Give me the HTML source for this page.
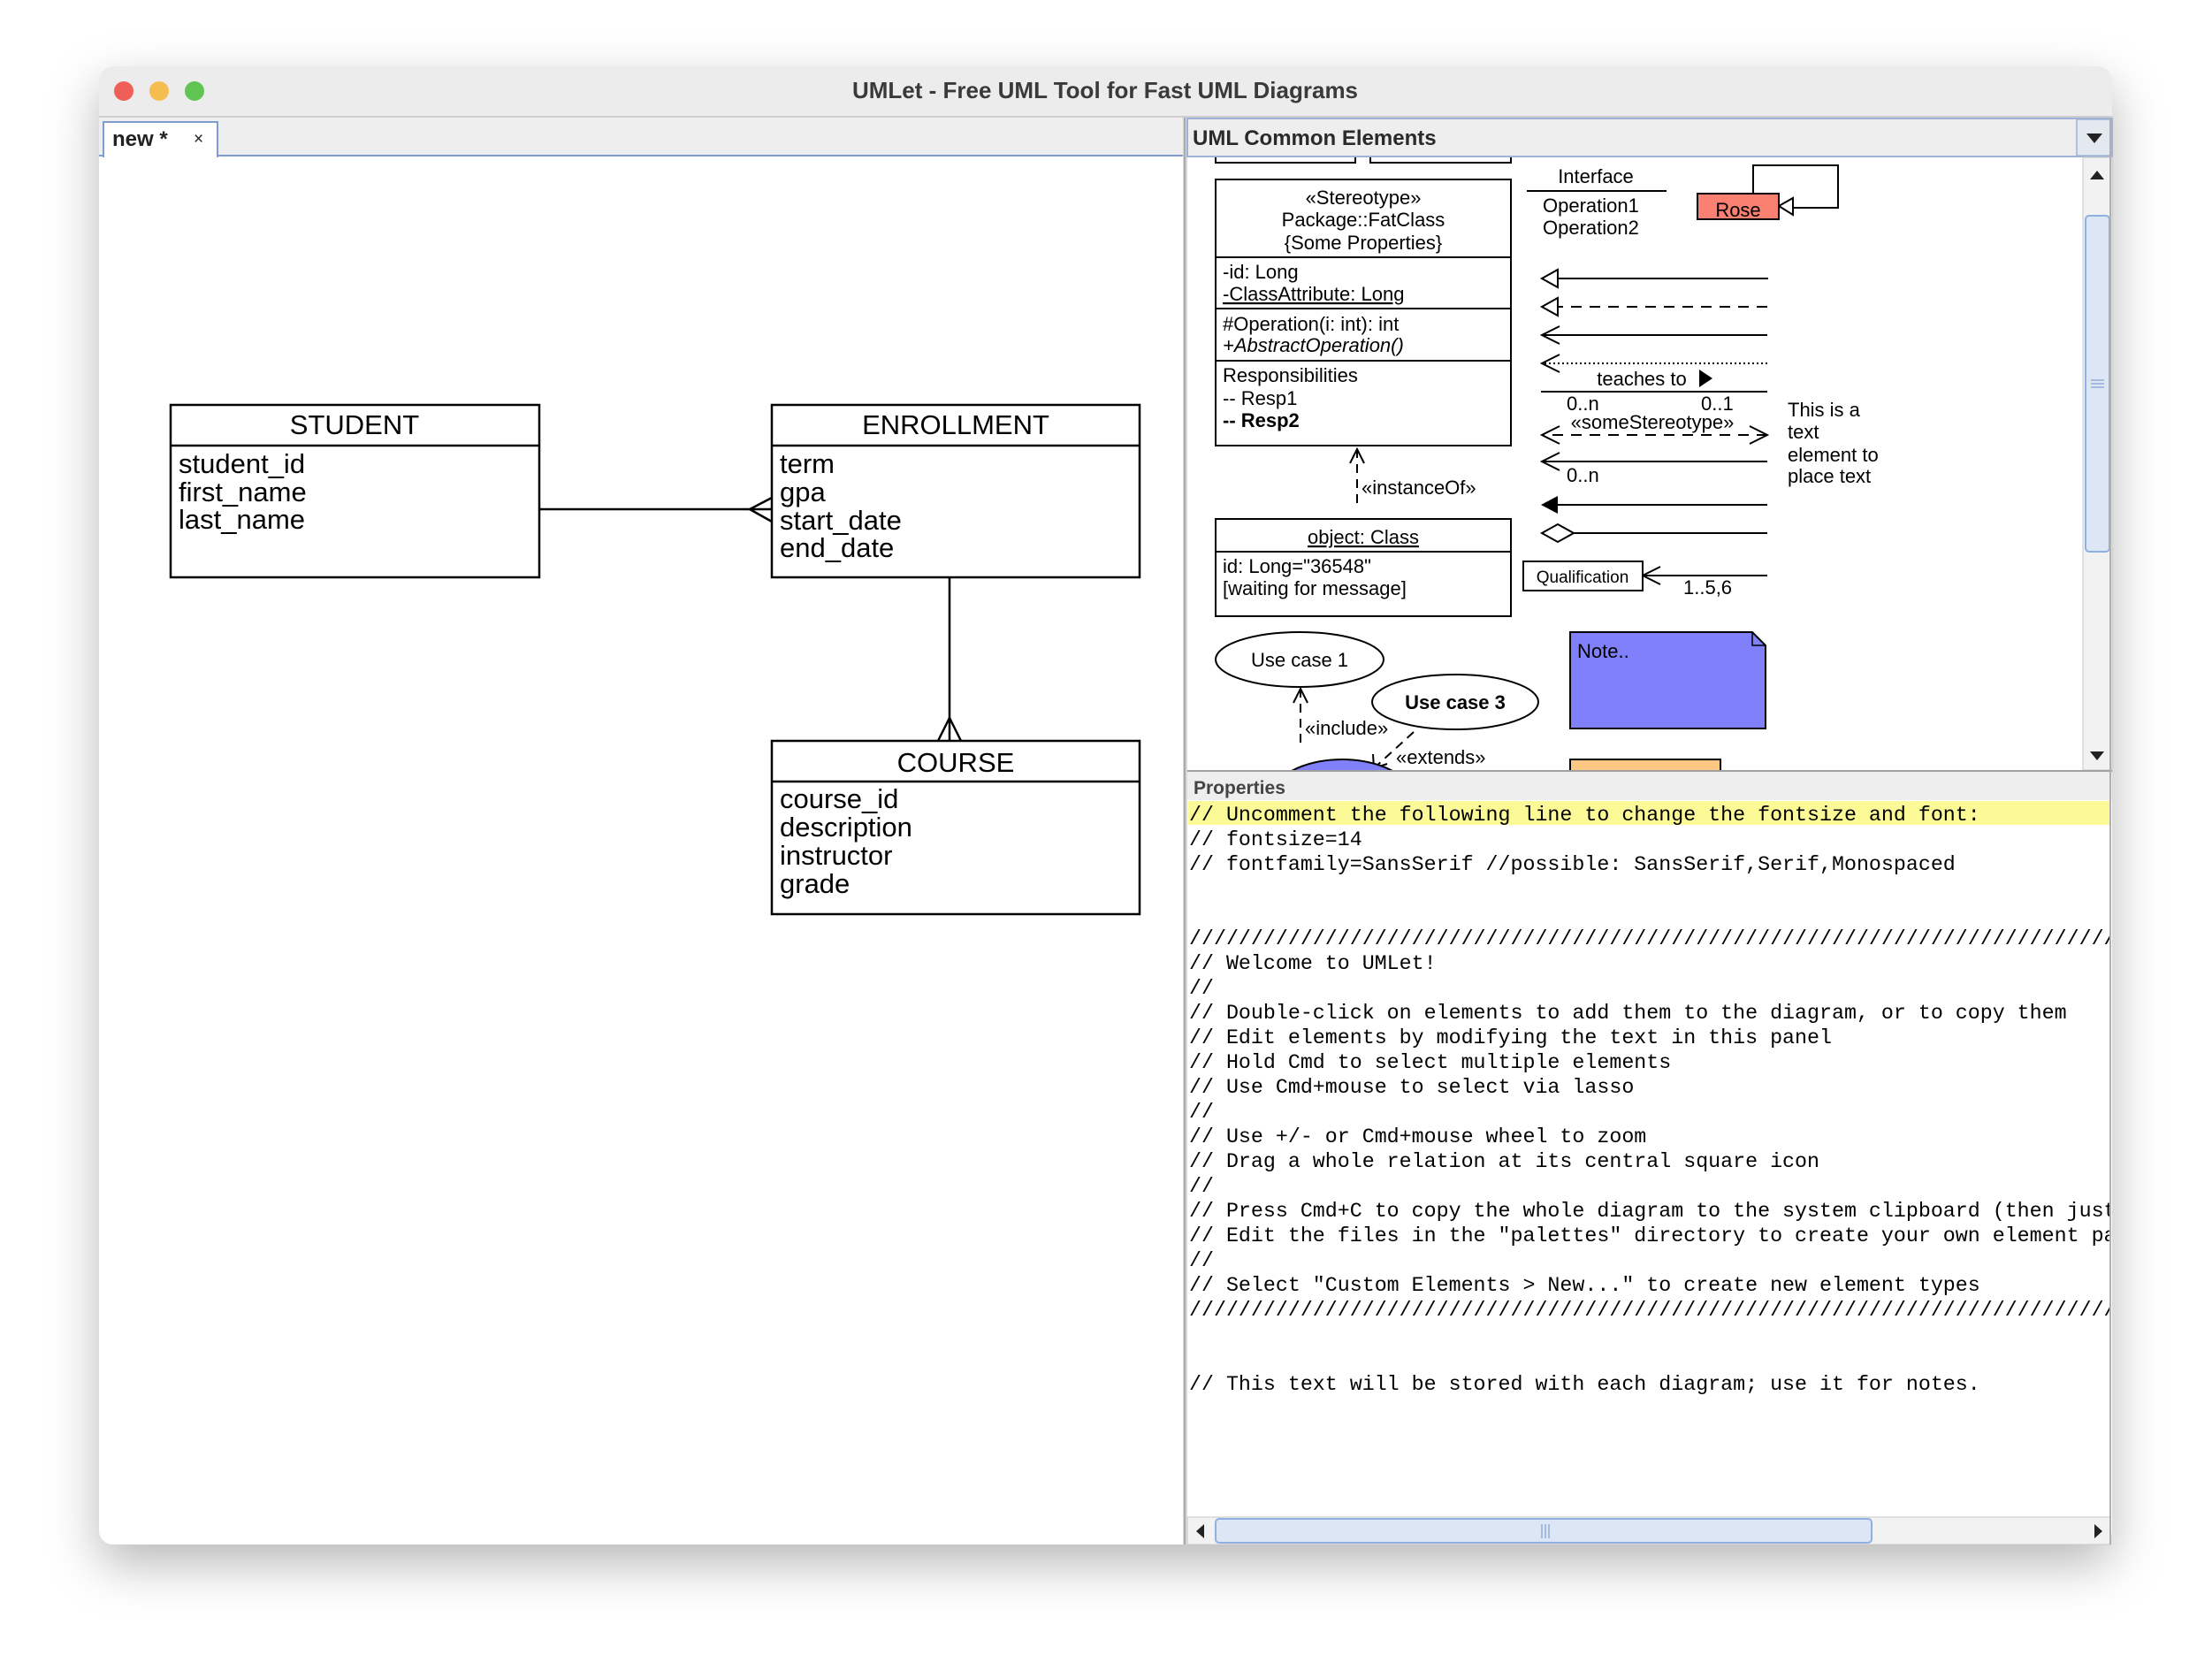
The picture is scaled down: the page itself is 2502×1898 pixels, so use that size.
<!DOCTYPE html>
<html><head><meta charset="utf-8"><style>
html,body{margin:0;padding:0;background:#fff;width:2502px;height:1898px;overflow:hidden}
svg{display:block}
.s{font-family:"Liberation Sans Narrow","Liberation Sans",sans-serif}
.m{font-family:"Liberation Mono",monospace;font-size:23.3px;fill:#000}
</style></head><body>
<svg width="2502" height="1898" viewBox="0 0 2502 1898" xmlns="http://www.w3.org/2000/svg">
<defs>
<filter id="sh" x="-10%" y="-10%" width="120%" height="125%"><feDropShadow dx="0" dy="22" stdDeviation="28" flood-color="#000" flood-opacity="0.28"/></filter>
<clipPath id="pal"><rect x="1342" y="178" width="1014" height="693"/></clipPath>
<clipPath id="prop"><rect x="1342" y="904" width="1044" height="810"/></clipPath>
</defs>
<rect x="112" y="75" width="2277" height="1672" rx="16" fill="#fff" filter="url(#sh)"/>
<path d="M112 132 V91 a16 16 0 0 1 16 -16 H2373 a16 16 0 0 1 16 16 V132 Z" fill="#ececec"/>
<line x1="112" y1="132" x2="2389" y2="132" stroke="#cfcfcf" stroke-width="2"/>
<circle cx="140" cy="103" r="11" fill="#ee5f57"/>
<circle cx="180" cy="103" r="11" fill="#f5bd4f"/>
<circle cx="220" cy="103" r="11" fill="#60c453"/>
<text x="1250" y="111" text-anchor="middle" font-family="Liberation Sans,sans-serif" font-weight="bold" font-size="26" fill="#3a3a3a">UMLet - Free UML Tool for Fast UML Diagrams</text>
<rect x="112" y="133" width="1228" height="43" fill="#eeeeee"/>
<line x1="112" y1="176" x2="1340" y2="176" stroke="#7f9dcf" stroke-width="2"/>
<rect x="117" y="138" width="129" height="39" fill="#fff" stroke="#7f9dcf" stroke-width="2"/>
<rect x="118" y="170" width="127" height="8" fill="#fff"/>
<text x="127" y="165" font-family="Liberation Sans,sans-serif" font-weight="bold" font-size="24" fill="#222">new *</text>
<text x="219" y="163" font-family="Liberation Sans,sans-serif" font-size="19" fill="#222">×</text>
<rect x="1338" y="133" width="5" height="1614" fill="#d8d8d8"/>
<line x1="1340" y1="133" x2="1340" y2="1747" stroke="#9a9a9a" stroke-width="1.5"/>
<g fill="none" stroke="#000" stroke-width="2.5">
<rect x="193" y="458" width="417" height="195"/><line x1="193" y1="504" x2="610" y2="504"/>
<rect x="873" y="458" width="416" height="195"/><line x1="873" y1="504" x2="1289" y2="504"/>
<rect x="873" y="838" width="416" height="196"/><line x1="873" y1="884" x2="1289" y2="884"/>
<line x1="610" y1="576" x2="873" y2="576"/><polyline points="873,563 848,576 873,590"/>
<line x1="1074" y1="653" x2="1074" y2="838"/><polyline points="1061,838 1074,812 1087,838"/>
</g>
<g class="s" font-size="31" fill="#000">
<text x="401" y="491" text-anchor="middle">STUDENT</text>
<text x="202" y="535">student_id</text><text x="202" y="567">first_name</text><text x="202" y="598">last_name</text>
<text x="1081" y="491" text-anchor="middle">ENROLLMENT</text>
<text x="882" y="535">term</text><text x="882" y="567">gpa</text><text x="882" y="599">start_date</text><text x="882" y="630">end_date</text>
<text x="1081" y="873" text-anchor="middle">COURSE</text>
<text x="882" y="914">course_id</text><text x="882" y="946">description</text><text x="882" y="978">instructor</text><text x="882" y="1010">grade</text>
</g>
<rect x="1343" y="134" width="1046" height="43" fill="#eeeeee" stroke="#9fb3d6" stroke-width="2"/>
<rect x="2349" y="135" width="39" height="41" fill="#e4e8ef" stroke="#9fb3d6" stroke-width="1.5"/>
<polygon points="2360,151 2378,151 2369,162" fill="#222"/>
<text x="1349" y="164" font-family="Liberation Sans,sans-serif" font-weight="bold" font-size="24" fill="#2a2a2a">UML Common Elements</text>
<g clip-path="url(#pal)">
<g fill="none" stroke="#000" stroke-width="2">
<polyline points="1375,170 1375,184 1533,184 1533,170"/><polyline points="1550,170 1550,184 1709,184 1709,170"/>
<rect x="1375" y="203" width="334" height="301"/>
<line x1="1375" y1="291" x2="1709" y2="291"/><line x1="1375" y1="349" x2="1709" y2="349"/><line x1="1375" y1="408" x2="1709" y2="408"/>
<line x1="1535" y1="508" x2="1535" y2="576" stroke-dasharray="10,7"/><polyline points="1527,524 1535,508 1543,524"/>
<rect x="1375" y="587" width="334" height="110"/><line x1="1375" y1="624" x2="1709" y2="624"/>
<ellipse cx="1470" cy="746" rx="95" ry="31"/>
<ellipse cx="1646" cy="794" rx="94" ry="31"/>
<line x1="1471" y1="779" x2="1471" y2="847" stroke-dasharray="10,7"/><polyline points="1463,795 1471,779 1479,795"/>
<line x1="1599" y1="828" x2="1554" y2="869" stroke-dasharray="10,7"/><polyline points="1553,853 1554,869 1569,864"/>
<line x1="1727" y1="216" x2="1885" y2="216"/>
<polyline points="1983,219 1983,187 2079,187 2079,235 2028,235"/>
<line x1="2000" y1="315" x2="1762" y2="315"/>
<line x1="1999" y1="347" x2="1762" y2="347" stroke-dasharray="12,9"/>
<line x1="1999" y1="379" x2="1744" y2="379"/><polyline points="1764,369 1744,379 1764,389"/>
<line x1="1999" y1="411" x2="1746" y2="411" stroke-dasharray="2,3"/><polyline points="1764,401 1744,411 1764,421"/>
<line x1="1999" y1="443" x2="1743" y2="443"/>
<line x1="1999" y1="492" x2="1744" y2="492" stroke-dasharray="12,9"/><polyline points="1764,482 1744,492 1764,502"/><polyline points="1979,482 1999,492 1979,502"/>
<line x1="1999" y1="522" x2="1744" y2="522"/><polyline points="1764,512 1744,522 1764,532"/>
<line x1="1999" y1="571" x2="1760" y2="571"/>
<line x1="1999" y1="603" x2="1780" y2="603"/>
<line x1="1999" y1="651" x2="1858" y2="651"/><polyline points="1878,641 1858,651 1878,661"/>
</g>
<polygon points="2012,233 2028,224 2028,243" fill="#fff" stroke="#000" stroke-width="2"/>
<rect x="1920" y="219" width="92" height="29" fill="#fa8072" stroke="#000" stroke-width="2"/>
<polygon points="1744,315 1762,305 1762,325" fill="#fff" stroke="#000" stroke-width="2"/>
<polygon points="1744,347 1762,337 1762,357" fill="#fff" stroke="#000" stroke-width="2"/>
<polygon points="1743,571 1762,561 1762,581" fill="#000"/>
<polygon points="1744,603 1762,593 1780,603 1762,613" fill="#fff" stroke="#000" stroke-width="2"/>
<polygon points="1922,418 1937,428 1922,438" fill="#000"/>
<rect x="1723" y="635" width="135" height="33" fill="#fff" stroke="#000" stroke-width="2"/>
<path d="M1776 715 H1982 L1997 730 V824 H1776 Z" fill="#8080fa" stroke="#000" stroke-width="2"/>
<polyline points="1982,715 1982,730 1997,730" fill="none" stroke="#000" stroke-width="1.5"/>
<rect x="1776" y="859" width="170" height="30" fill="#fdc883" stroke="#000" stroke-width="2"/>
<ellipse cx="1518" cy="905" rx="82" ry="46" fill="#8080fa" stroke="#000" stroke-width="2"/>
<g class="s" font-size="22" fill="#000">
<text x="1542" y="231" text-anchor="middle">«Stereotype»</text>
<text x="1542" y="256" text-anchor="middle">Package::FatClass</text>
<text x="1542" y="282" text-anchor="middle">{Some Properties}</text>
<text x="1383" y="315">-id: Long</text>
<text x="1383" y="340" text-decoration="underline">-ClassAttribute: Long</text>
<text x="1383" y="374">#Operation(i: int): int</text>
<text x="1383" y="398" font-style="italic">+AbstractOperation()</text>
<text x="1383" y="432">Responsibilities</text>
<text x="1383" y="458">-- Resp1</text>
<text x="1383" y="483" font-weight="bold">-- Resp2</text>
<text x="1540" y="559">«instanceOf»</text>
<text x="1542" y="615" text-anchor="middle" text-decoration="underline">object: Class</text>
<text x="1383" y="648">id: Long="36548"</text>
<text x="1383" y="673">[waiting for message]</text>
<text x="1470" y="754" text-anchor="middle">Use case 1</text>
<text x="1646" y="802" text-anchor="middle" font-weight="bold">Use case 3</text>
<text x="1476" y="831">«include»</text>
<text x="1579" y="864">«extends»</text>
<text x="1805" y="207" text-anchor="middle">Interface</text>
<text x="1745" y="240">Operation1</text>
<text x="1745" y="265">Operation2</text>
<text x="1966" y="245" text-anchor="middle">Rose</text>
<text x="1857" y="436" text-anchor="middle">teaches to</text>
<text x="1772" y="464">0..n</text><text x="1924" y="464">0..1</text>
<text x="1869" y="485" text-anchor="middle">«someStereotype»</text>
<text x="1772" y="545">0..n</text>
<text x="1790" y="659" text-anchor="middle" font-size="19">Qualification</text>
<text x="1904" y="672">1..5,6</text>
<text x="2022" y="471">This is a</text><text x="2022" y="496">text</text><text x="2022" y="522">element to</text><text x="2022" y="546">place text</text>
<text x="1784" y="744">Note..</text>
</g>
</g>
<rect x="2356" y="178" width="33" height="693" fill="#f2f2f2" stroke="#c8c8c8" stroke-width="1"/>
<polygon points="2364,203 2380,203 2372,193" fill="#222"/>
<rect x="2359" y="244" width="27" height="380" rx="4" fill="#dce6f5" stroke="#8fb0e0" stroke-width="2"/>
<line x1="2365" y1="430" x2="2380" y2="430" stroke="#6e8fc8"/><line x1="2365" y1="434" x2="2380" y2="434" stroke="#6e8fc8"/><line x1="2365" y1="438" x2="2380" y2="438" stroke="#6e8fc8"/>
<polygon points="2364,850 2380,850 2372,860" fill="#222"/>
<line x1="1343" y1="872" x2="2389" y2="872" stroke="#a0a0a0" stroke-width="2"/>
<rect x="1343" y="873" width="1046" height="32" fill="#eeeeee"/>
<text x="1350" y="898" font-family="Liberation Sans,sans-serif" font-weight="bold" font-size="21" fill="#444">Properties</text>
<rect x="1344" y="906" width="1042" height="27" fill="#fcfa96"/>
<g clip-path="url(#prop)" class="m" xml:space="preserve">
<text x="1345" y="928">// Uncomment the following line to change the fontsize and font:</text>
<text x="1345" y="956">// fontsize=14</text>
<text x="1345" y="984">// fontfamily=SansSerif //possible: SansSerif,Serif,Monospaced</text>
<text x="1345" y="1068">////////////////////////////////////////////////////////////////////////////////</text>
<text x="1345" y="1096">// Welcome to UMLet!</text>
<text x="1345" y="1124">//</text>
<text x="1345" y="1152">// Double-click on elements to add them to the diagram, or to copy them</text>
<text x="1345" y="1180">// Edit elements by modifying the text in this panel</text>
<text x="1345" y="1208">// Hold Cmd to select multiple elements</text>
<text x="1345" y="1236">// Use Cmd+mouse to select via lasso</text>
<text x="1345" y="1264">//</text>
<text x="1345" y="1292">// Use +/- or Cmd+mouse wheel to zoom</text>
<text x="1345" y="1320">// Drag a whole relation at its central square icon</text>
<text x="1345" y="1348">//</text>
<text x="1345" y="1376">// Press Cmd+C to copy the whole diagram to the system clipboard (then just paste it)</text>
<text x="1345" y="1404">// Edit the files in the "palettes" directory to create your own element palettes</text>
<text x="1345" y="1432">//</text>
<text x="1345" y="1460">// Select "Custom Elements &gt; New..." to create new element types</text>
<text x="1345" y="1488">////////////////////////////////////////////////////////////////////////////////</text>
<text x="1345" y="1572">// This text will be stored with each diagram;  use it for notes.</text>
</g>
<rect x="1343" y="1716" width="1044" height="31" fill="#f2f2f2" stroke="#c8c8c8" stroke-width="1"/>
<polygon points="1362,1724 1362,1740 1353,1732" fill="#222"/>
<polygon points="2369,1724 2369,1740 2378,1732" fill="#222"/>
<rect x="1375" y="1718" width="742" height="27" rx="4" fill="#dce6f5" stroke="#8fb0e0" stroke-width="2"/>
<line x1="1744" y1="1724" x2="1744" y2="1740" stroke="#6e8fc8"/><line x1="1748" y1="1724" x2="1748" y2="1740" stroke="#6e8fc8"/><line x1="1752" y1="1724" x2="1752" y2="1740" stroke="#6e8fc8"/>
<line x1="2387" y1="134" x2="2387" y2="1747" stroke="#b0b0b0" stroke-width="2"/>
</svg>
</body></html>
